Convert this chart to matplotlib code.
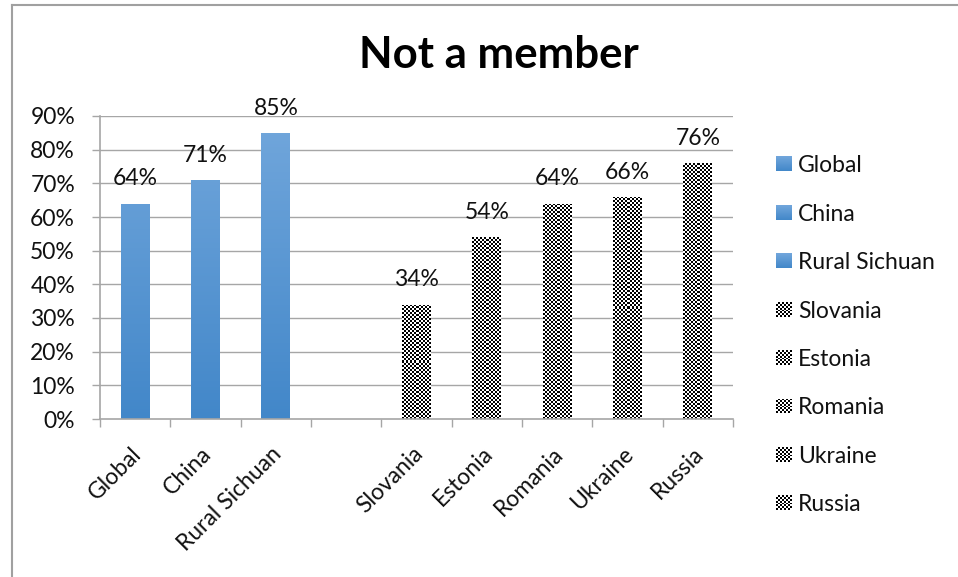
import numpy as np
import matplotlib
matplotlib.use("Agg")
import matplotlib.pyplot as plt
from matplotlib.patches import Rectangle
from matplotlib.lines import Line2D

plt.rcParams['font.family'] = ['Lato', 'DejaVu Sans']

categories = ["Global", "China", "Rural Sichuan", "", "Slovania", "Estonia", "Romania", "Ukraine", "Russia"]
values = [0.64, 0.71, 0.85, None, 0.34, 0.54, 0.64, 0.66, 0.76]
styles = ["blue", "blue", "blue", None, "check", "check", "check", "check", "check"]
legend_labels = ["Global", "China", "Rural Sichuan", "Slovania", "Estonia", "Romania", "Ukraine", "Russia"]
legend_styles = ["blue", "blue", "blue", "check", "check", "check", "check", "check"]
y_ticks = [0.0, 0.1, 0.2, 0.3, 0.4, 0.5, 0.6, 0.7, 0.8, 0.9]
title = "Not a member"

W, H = 958, 577
DPI = 100
FS = 16.5
fig = plt.figure(figsize=(W / DPI, H / DPI), dpi=DPI)
fig.patch.set_facecolor("white")

def px_box(x0, y0, x1, y1):
    # pixel box (top-left origin) -> figure fraction [left, bottom, width, height]
    return [x0 / W, 1 - y1 / H, (x1 - x0) / W, (y1 - y0) / H]

# chart frame
frame_col = "#A0A0A0"
fig.add_artist(Line2D([12 / W, 1.0], [1 - 4.5 / H, 1 - 4.5 / H], color=frame_col, lw=1.5,
                      transform=fig.transFigure))
fig.add_artist(Line2D([12 / W, 12 / W], [0.0, 1 - 4.5 / H], color=frame_col, lw=1.5,
                      transform=fig.transFigure))

ax = fig.add_axes(px_box(100, 116, 733, 419))
ax.set_xlim(-0.5, len(categories) - 0.5)
ax.set_ylim(0, 0.9)

grid_col = "#A6A6A6"
for t in y_ticks[1:]:
    ax.axhline(t, color=grid_col, lw=1.0, zorder=0)

bar_w = 0.41
blue_grad = np.linspace(0, 1, 256)[:, None]
blue_cmap = matplotlib.colors.LinearSegmentedColormap.from_list("bg", ["#4287C9", "#72A7DC"])
px_per_x = 633 / len(categories)
px_per_y = 303 / 0.9
cell = 2  # checker cell size in pixels

for i, (v, s) in enumerate(zip(values, styles)):
    if v is None:
        continue
    x0 = i - bar_w / 2
    rect = Rectangle((x0, 0), bar_w, v, facecolor="none", edgecolor="none")
    ax.add_patch(rect)
    if s == "blue":
        im = ax.imshow(blue_grad, cmap=blue_cmap, origin="lower", aspect="auto",
                       extent=(x0, x0 + bar_w, 0, 0.9), zorder=2)
    else:
        nx = max(1, int(round(bar_w * px_per_x / cell)))
        ny = max(1, int(round(v * px_per_y / cell)))
        chk = (np.add.outer(np.arange(ny), np.arange(nx)) % 2).astype(float)
        im = ax.imshow(chk, cmap="gray", origin="lower", aspect="auto", interpolation="nearest",
                       extent=(x0, x0 + bar_w, 0, v), zorder=2, vmin=0, vmax=1)
    im.set_clip_path(rect)
    ax.annotate(f"{int(round(v * 100))}%", (i, v), xytext=(0, 13), textcoords="offset points",
                ha="center", va="baseline", fontsize=FS, color="#111111")

ax.set_xlim(-0.5, len(categories) - 0.5)
ax.set_ylim(0, 0.9)

for sp in ["top", "right"]:
    ax.spines[sp].set_visible(False)
for sp in ["left", "bottom"]:
    ax.spines[sp].set_color(grid_col)
    ax.spines[sp].set_linewidth(1.2)

ax.set_yticks(y_ticks)
ax.set_yticklabels([f"{int(round(t * 100))}%" for t in y_ticks], fontsize=FS, color="#111111")
ax.tick_params(axis="y", direction="out", length=6, width=1.0, color=grid_col, pad=12)

ax.set_xticks(np.arange(len(categories) + 1) - 0.5, minor=False)
ax.set_xticklabels([])
ax.tick_params(axis="x", direction="out", length=6, width=1.0, color=grid_col)
for i, c in enumerate(categories):
    if c:
        ax.text(i + 0.04, -0.093, c, rotation=45, rotation_mode="anchor", ha="right", va="center",
                fontsize=FS, color="#111111", transform=ax.transData, clip_on=False)

fig.text(499 / W, 1 - 55 / H, title, ha="center", va="center", fontsize=31.5,
         fontweight="bold", color="#000000")

# legend
leg_y0 = 164
leg_dy = 48.4
for k, (lab, st) in enumerate(zip(legend_labels, legend_styles)):
    yc = leg_y0 + k * leg_dy
    lax = fig.add_axes(px_box(776, yc - 7.5, 792, yc + 7.5))
    lax.set_axis_off()
    if st == "blue":
        lax.imshow(blue_grad, cmap=blue_cmap, origin="lower", aspect="auto", extent=(0, 1, 0, 1))
    else:
        chk = (np.add.outer(np.arange(8), np.arange(8)) % 2).astype(float)
        lax.imshow(chk, cmap="gray", origin="lower", aspect="auto", interpolation="nearest",
                   extent=(0, 1, 0, 1), vmin=0, vmax=1)
    fig.text(798 / W, 1 - yc / H, lab, ha="left", va="center_baseline", fontsize=FS,
             color="#111111")

fig.savefig("out.png", dpi=DPI)
